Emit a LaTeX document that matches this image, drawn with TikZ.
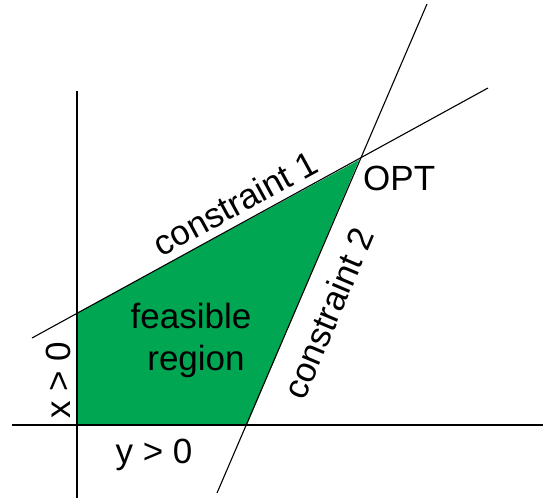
\documentclass[tikz,border=0pt]{standalone}
\usepackage{fontspec}
\setmainfont{Liberation Sans}
\usetikzlibrary{positioning}
\definecolor{feasgreen}{RGB}{0,166,81}

\begin{document}
\begin{tikzpicture}[
  x=1pt, y=-1pt,
  axisline/.style={line width=1.2pt, black},
  cline/.style={line width=1.1pt, black},
  lbl/.style={font=\fontsize{35}{42}\selectfont, inner sep=0pt},
]
  \useasboundingbox (0,0) rectangle (543,498);

  % corner points of the region and ends of the lines
  \coordinate (origin) at (77,425);
  \coordinate (xcut)   at (77,313);
  \coordinate (ycut)   at (247,425);
  \coordinate (opt)    at (359,160);
  \coordinate (c1a) at (32,338);
  \coordinate (c1b) at (488,88);
  \coordinate (c2a) at (217,493);
  \coordinate (c2b) at (427,4);
  \coordinate (xtop) at (77,91);
  \coordinate (xbot) at (77,498);
  \coordinate (yleft)  at (12,425);
  \coordinate (yright) at (543,425);

  \fill[feasgreen] (origin) -- (xcut) -- (opt) -- (ycut) -- cycle;

  \draw[axisline] (xtop) -- (xbot);
  \draw[axisline] (yleft) -- (yright);
  \draw[cline] (c1a) -- (c1b);
  \draw[cline] (c2a) -- (c2b);

  \node[lbl, anchor=base west] (optlbl) at (363,190) {OPT};
  \node[lbl, rotate=28.6] (c1lbl) at (235,203) {constraint 1};
  \node[lbl, rotate=67.1] (c2lbl) at (328,313) {constraint 2};
  \node[lbl, anchor=base] (feas) at (191,328) {feasible};
  \node[lbl, anchor=base] (reg)  at (196,370) {region};
  \node[lbl, anchor=base, rotate=90] (xlbl) at (70,380) {x > 0};
  \node[lbl, anchor=base] (ylbl) at (154,463) {y > 0};
\end{tikzpicture}
\end{document}
